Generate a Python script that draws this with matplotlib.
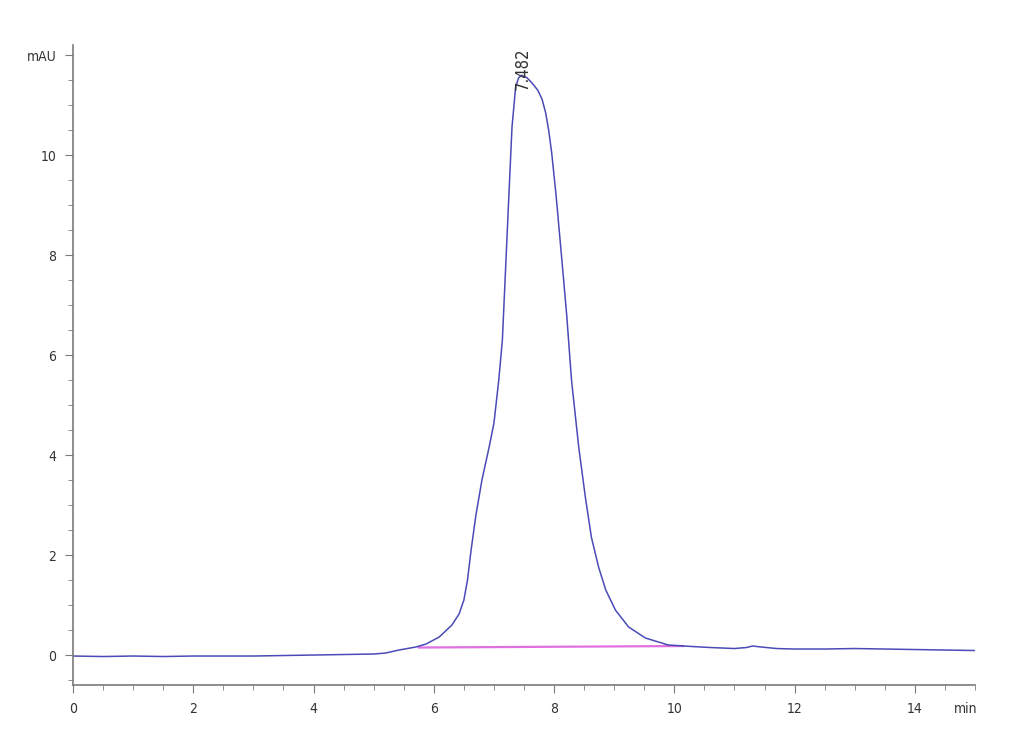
import matplotlib.pyplot as plt
from matplotlib.ticker import MultipleLocator

# chromatogram (time in min, absorbance in mAU)
time = [0.0, 0.5, 1.0, 1.5, 2.0, 3.0, 4.0, 4.5, 5.0, 5.2, 5.42, 5.7, 5.87, 6.09,
        6.3, 6.42, 6.5, 6.56, 6.62, 6.7, 6.8, 6.92, 7.0, 7.08, 7.14, 7.2, 7.25,
        7.3, 7.36, 7.41, 7.46, 7.55, 7.63, 7.73, 7.8, 7.86, 7.91, 7.96, 8.03, 8.13,
        8.21, 8.29, 8.41, 8.52, 8.62, 8.74, 8.86, 9.02, 9.24, 9.52, 9.9, 10.3,
        10.6, 11.0, 11.2, 11.3, 11.45, 11.7, 12.0, 12.5, 13.0, 13.5, 14.0, 14.5, 15.0]
signal = [-0.02, -0.03, -0.02, -0.03, -0.02, -0.02, 0.0, 0.01, 0.02, 0.04, 0.1,
          0.16, 0.22, 0.36, 0.6, 0.82, 1.1, 1.5, 2.1, 2.8, 3.5, 4.16, 4.64, 5.5,
          6.3, 7.9, 9.24, 10.56, 11.36, 11.55, 11.6, 11.55, 11.45, 11.3, 11.12,
          10.85, 10.5, 10.05, 9.24, 7.9, 6.8, 5.5, 4.16, 3.16, 2.36, 1.76, 1.3,
          0.9, 0.56, 0.34, 0.2, 0.17, 0.15, 0.13, 0.15, 0.18, 0.16, 0.13, 0.12,
          0.12, 0.13, 0.12, 0.11, 0.1, 0.09]

base_t = [5.75, 10.15]
base_y = [0.15, 0.18]

peak_t = 7.482

xticks = [0, 2, 4, 6, 8, 10, 12, 14]
yticks = [0, 2, 4, 6, 8, 10, 12]
ylabels = ['0', '2', '4', '6', '8', '10', 'mAU']

plt.rcParams['font.family'] = ['DejaVu Sans']
plt.rcParams['font.stretch'] = 'condensed'

fig = plt.figure(figsize=(10.3, 7.55), dpi=100)
ax = fig.add_axes([0.0709, 0.0927, 0.8757, 0.8473])

ax.plot(time, signal, color='#4a4ab8', linewidth=1.1)
ax.plot(base_t, base_y, color='#e070e0', linewidth=1.6, zorder=1)
ax.text(peak_t, 11.3, '7.482', rotation=90, ha='center', va='bottom',
        fontsize=12, color='#333333')

ax.set_xlim(0, 15)
ax.set_ylim(-0.6, 12.2)
ax.set_xticks(xticks)
ax.set_yticks(yticks)
ax.set_yticklabels(ylabels)
ax.xaxis.set_minor_locator(MultipleLocator(0.5))
ax.yaxis.set_minor_locator(MultipleLocator(0.5))
ax.annotate('min', xy=(14.85, -0.6), xytext=(0, -12), textcoords='offset points',
            ha='center', va='top', fontsize=10, color='#333333',
            annotation_clip=False)

for side in ['top', 'right']:
    ax.spines[side].set_visible(False)
for side in ['left', 'bottom']:
    ax.spines[side].set_color('#7a7a7a')
    ax.spines[side].set_linewidth(1.2)

ax.tick_params(which='major', length=6, color='#7a7a7a', labelsize=10,
               labelcolor='#333333', pad=6)
ax.tick_params(which='minor', length=3.5, color='#7a7a7a')

plt.savefig('out.png')
